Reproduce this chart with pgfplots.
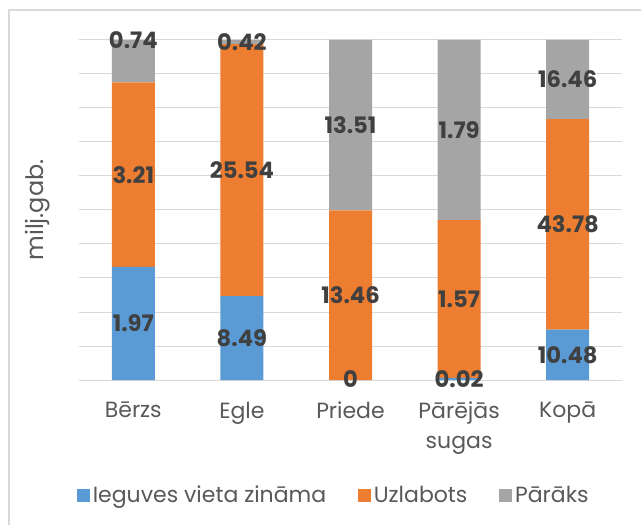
\documentclass[border=0pt]{standalone}
\usepackage{pgfplots}
\pgfplotsset{compat=1.18}
\usepackage{pgfplotstable}
\usepackage{fontspec}
\setmainfont{Poppins}

\definecolor{cblue}{HTML}{5B9BD5}
\definecolor{corange}{HTML}{ED7D31}
\definecolor{cgray}{HTML}{A5A5A5}
\definecolor{gridc}{HTML}{D9D9D9}
\definecolor{tickc}{HTML}{595959}
\definecolor{labc}{HTML}{404040}

% share of each part in the column total (%), raw values in the labels table
\pgfplotstableread{
x  iegu   uzl    par
0  33.28  54.22  12.50
1  24.64  74.14  1.22
2  0.00   49.91  50.09
3  0.59   46.45  52.96
4  14.82  61.91  23.27
}\shares

\pgfplotstableread{
x  y      label
0  16.64  1.97
0  60.39  3.21
0  100.0  0.74
1  12.32  8.49
1  61.71  25.54
1  99.39  0.42
2  0.30   0
2  24.95  13.46
2  74.96  13.51
3  0.30   0.02
3  23.82  1.57
3  73.52  1.79
4  7.41   10.48
4  45.78  43.78
4  88.37  16.46
}\labels

\begin{document}
\begin{tikzpicture}
\path[use as bounding box] (-59.25pt,-108pt) rectangle (421.5pt,285pt);
\draw[gridc, line width=1.2pt] (-52.5pt,-130pt) -- (-52.5pt,277.5pt) -- (440pt,277.5pt);

\begin{axis}[
    scale only axis,
    width=407.25pt, height=255pt,
    ybar stacked,
    bar width=32.25pt,
    xmin=-0.5, xmax=4.5,
    ymin=0, ymax=100,
    xtick={0,1,2,3,4},
    xticklabels={B\={e}rzs, Egle, Priede, {P\={a}r\={e}j\={a}s\\sugas}, Kop\={a}},
    xticklabel style={align=center, text=tickc, font=\fontsize{16.5}{22.5}\selectfont, yshift=-13pt},
    ytick={0,10,...,100},
    yticklabels={},
    major tick length=0pt,
    ymajorgrids,
    grid style={gridc, line width=0.75pt},
    axis line style={draw=none},
    ylabel={milj.gab.},
    every axis y label/.style={at={(rel axis cs:-0.0755,0.5)}, anchor=center, rotate=90,
        text=tickc, font=\fontsize{18}{20}\selectfont},
    legend style={at={(rel axis cs:0.47,0)}, anchor=center, yshift=-86.25pt,
        draw=none, legend columns=3, text=tickc, font=\fontsize{16.5}{20}\selectfont,
        /tikz/every even column/.append style={column sep=22pt}},
    legend image code/.code={\fill[#1] (0pt,-4.875pt) rectangle (9.75pt,4.875pt);},
]
\addplot[fill=cblue, draw=none] table[x=x, y=iegu] {\shares};
\addplot[fill=corange, draw=none] table[x=x, y=uzl] {\shares};
\addplot[fill=cgray, draw=none] table[x=x, y=par] {\shares};
\legend{Ieguves vieta zin\={a}ma, Uzlabots, P\={a}r\={a}ks}
\end{axis}

\begin{axis}[
    scale only axis,
    width=407.25pt, height=255pt,
    xmin=-0.5, xmax=4.5,
    ymin=0, ymax=100,
    hide axis,
]
\addplot[only marks, mark=*, mark size=0pt, mark options={draw=none, fill=none},
    nodes near coords, point meta=explicit symbolic,
    nodes near coords style={anchor=center, text=labc, font=\bfseries\fontsize{17}{20}\selectfont}]
    table[x=x, y=y, meta=label] {\labels};
\end{axis}
\end{tikzpicture}
\end{document}
